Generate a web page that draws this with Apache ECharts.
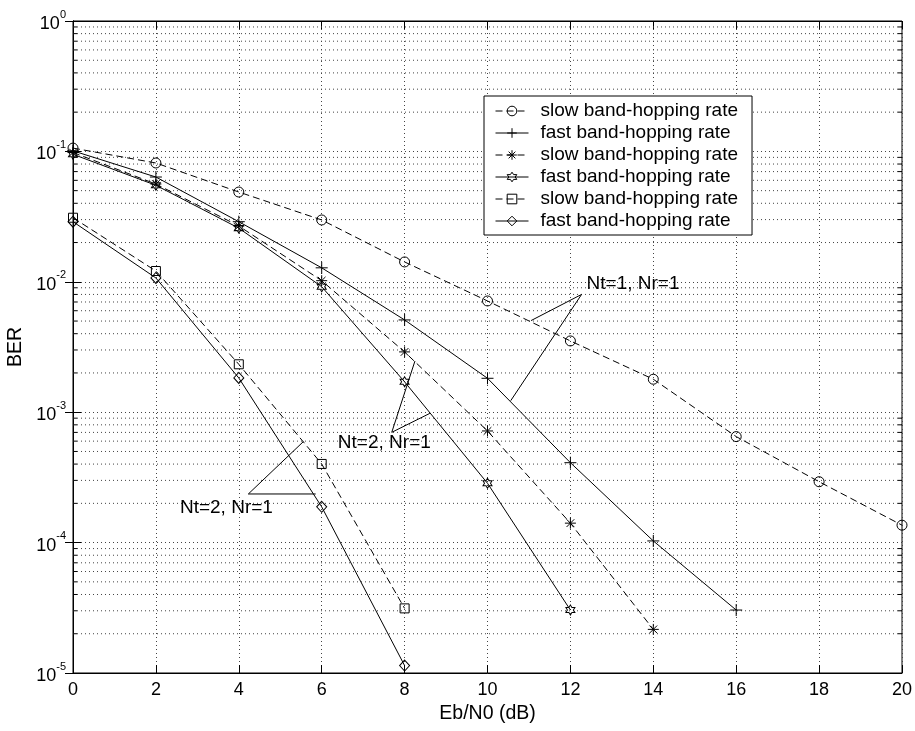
<!DOCTYPE html>
<html>
<head>
<meta charset="utf-8">
<script src="https://cdn.jsdelivr.net/npm/echarts@6/dist/echarts.min.js"></script>
<style>body{margin:0;background:#fff;}</style>
</head>
<body>
<div id="main" style="width:915px;height:731px"></div>
<script>
// Eb/N0 (dB) and BER
var ebn0 = [0, 2, 4, 6, 8, 10, 12, 14, 16, 18, 20];
var slowNt1 = [0.106, 0.0815, 0.0488, 0.0298, 0.0142, 0.00713, 0.00352, 0.00179, 6.5e-4, 2.93e-4, 1.36e-4];
var fastNt1 = [0.101, 0.0636, 0.0289, 0.0128, 0.0051, 0.00182, 4.1e-4, 1.03e-4, 3.04e-5];
var slowNt2a = [0.098, 0.0562, 0.0268, 0.0102, 0.0029, 7.18e-4, 1.41e-4, 2.16e-5];
var fastNt2a = [0.095, 0.055, 0.0258, 0.00917, 0.00171, 2.85e-4, 3.04e-5];
var slowNt2b = [0.031, 0.0121, 0.00233, 4.01e-4, 3.13e-5];
var fastNt2b = [0.0289, 0.0107, 0.00183, 1.88e-4, 1.14e-5];

var legendLabels = ['slow band-hopping rate', 'fast band-hopping rate', 'slow band-hopping rate',
    'fast band-hopping rate', 'slow band-hopping rate', 'fast band-hopping rate'];

var minorFactors = [2, 3, 4, 5, 6, 7, 8, 9];
var decades = [1e-5, 1e-4, 1e-3, 1e-2, 1e-1];

// annotation arrows in data coordinates
var notes = [
    {text: 'Nt=1, Nr=1', at: [12.39, 0.00962], vertex: [12.27, 0.0080], ends: [[11.05, 0.00504], [10.56, 0.001225]]},
    {text: 'Nt=2, Nr=1', at: [6.39, 5.8e-4], vertex: [7.69, 7.01e-4], ends: [[8.25, 2.47e-3], [8.61, 9.8e-4]]},
    {text: 'Nt=2, Nr=1', at: [2.58, 1.84e-4], vertex: [4.23, 2.36e-4], ends: [[5.855, 2.36e-4], [5.556, 5.94e-4]]}
];

var FONT = 'Liberation Sans, Arial, sans-serif';

function starPath(n, inner) {
    var s = '';
    for (var k = 0; k < 2 * n; k++) {
        var a = Math.PI * (-0.5 + k / n);
        var r = k % 2 ? inner : 1;
        s += (k ? 'L' : 'M') + (r * Math.cos(a) * 10).toFixed(2) + ',' + (r * Math.sin(a) * 10).toFixed(2);
    }
    return 'path://' + s + 'Z';
}

var marks = [
    {vals: slowNt1, symbol: 'circle', size: 10, dash: [7, 4]},
    {vals: fastNt1, symbol: 'path://M0,5L10,5M5,0L5,10', size: 12, dash: 'solid'},
    {vals: slowNt2a, symbol: 'path://M5,0L5,10M0,5L10,5M1.5,1.5L8.5,8.5M8.5,1.5L1.5,8.5', size: 11, dash: [7, 4]},
    {vals: fastNt2a, symbol: starPath(6, 0.577), size: [9, 10], dash: 'solid'},
    {vals: slowNt2b, symbol: 'rect', size: 9, dash: [7, 4]},
    {vals: fastNt2b, symbol: 'diamond', size: [10, 11], dash: 'solid'}
];

var names = [];
var series = marks.map(function (m, i) {
    var name = legendLabels[i] + new Array(i + 1).join(' ');
    names.push(name);
    return {
        name: name, type: 'line', z: 3,
        data: m.vals.map(function (v, j) { return [ebn0[j], v]; }),
        symbol: m.symbol, symbolSize: m.size, showSymbol: true,
        lineStyle: {color: '#000', width: 1, type: m.dash},
        itemStyle: {color: 'rgba(0,0,0,0)', borderColor: '#000', borderWidth: 1}
    };
});

var minorData = [];
decades.forEach(function (d) {
    minorFactors.forEach(function (f) { minorData.push([0, d * f]); });
});

series.push({
    type: 'custom', silent: true, z: 1,
    data: minorData,
    encode: {x: 0, y: 1},
    renderItem: function (params, api) {
        var p = api.coord([0, api.value(1)]);
        var cs = params.coordSys;
        return {
            type: 'group',
            children: [
                {type: 'line', shape: {x1: cs.x, y1: p[1], x2: cs.x + cs.width, y2: p[1]},
                    style: {stroke: '#444', lineDash: [1, 3], lineWidth: 1}},
                {type: 'line', shape: {x1: cs.x, y1: p[1], x2: cs.x + 4, y2: p[1]}, style: {stroke: '#000', lineWidth: 1}},
                {type: 'line', shape: {x1: cs.x + cs.width - 4, y1: p[1], x2: cs.x + cs.width, y2: p[1]}, style: {stroke: '#000', lineWidth: 1}}
            ]
        };
    }
});

var gridLine = {show: true, lineStyle: {color: '#444', type: [1, 3], width: 1}};

var myChart = echarts.init(document.getElementById('main'));
var option = {
    animation: false,
    backgroundColor: '#fff',
    textStyle: {fontFamily: FONT},
    grid: {left: 73, right: 13, top: 21, bottom: 58, show: true, borderColor: '#000', borderWidth: 1,
        containLabel: false, outerBoundsMode: 'none'},
    legend: {
        data: names, orient: 'vertical', left: 484, top: 96, selectedMode: false,
        backgroundColor: '#fff', borderColor: '#000', borderWidth: 1,
        padding: [4, 14, 3, 11], itemGap: 0, itemWidth: 33, itemHeight: 12,
        itemStyle: {color: 'rgba(0,0,0,0)', borderColor: '#000', borderWidth: 1},
        lineStyle: {width: 1, color: '#000'},
        formatter: function (name) { return name.trim(); },
        textStyle: {fontFamily: FONT, fontSize: 19, color: '#000', lineHeight: 22, padding: [0, 0, 0, 7]}
    },
    xAxis: [{
        type: 'value', min: 0, max: 20, interval: 2,
        name: 'Eb/N0 (dB)', nameLocation: 'middle', nameGap: 30,
        nameTextStyle: {fontFamily: FONT, fontSize: 19.5, color: '#000'},
        axisLine: {lineStyle: {color: '#000'}},
        axisTick: {inside: true, length: 8, lineStyle: {color: '#000'}},
        axisLabel: {fontFamily: FONT, fontSize: 18, color: '#000', margin: 8},
        splitLine: gridLine
    }, {
        type: 'value', min: 0, max: 20, interval: 2, position: 'top',
        axisLine: {lineStyle: {color: '#000'}},
        axisTick: {inside: true, length: 8, lineStyle: {color: '#000'}},
        axisLabel: {show: false}, splitLine: {show: false}
    }],
    yAxis: [{
        type: 'log', logBase: 10, min: 1e-5, max: 1, splitNumber: 5,
        name: 'BER', nameLocation: 'middle', nameGap: 45,
        nameTextStyle: {fontFamily: FONT, fontSize: 19.5, color: '#000'},
        axisLine: {lineStyle: {color: '#000'}},
        axisTick: {inside: true, length: 8, lineStyle: {color: '#000'}},
        axisLabel: {
            margin: 7, color: '#000',
            formatter: function (v) { return '{b|10}{s|' + Math.round(Math.log10(v)) + '}'; },
            rich: {
                b: {fontFamily: FONT, fontSize: 18, color: '#000', padding: [6, 0, 0, 0]},
                s: {fontFamily: FONT, fontSize: 11, color: '#000', verticalAlign: 'top'}
            }
        },
        splitLine: gridLine
    }, {
        type: 'log', logBase: 10, min: 1e-5, max: 1, splitNumber: 5, position: 'right',
        axisLine: {show: true, lineStyle: {color: '#000'}},
        axisTick: {inside: true, length: 8, lineStyle: {color: '#000'}},
        axisLabel: {show: false}, splitLine: {show: false}
    }],
    series: series
};
myChart.setOption(option);

// annotation lines + labels, positioned through the axes
var graphics = [];
notes.forEach(function (n) {
    var v = myChart.convertToPixel({xAxisIndex: 0, yAxisIndex: 0}, n.vertex);
    n.ends.forEach(function (e) {
        var p = myChart.convertToPixel({xAxisIndex: 0, yAxisIndex: 0}, e);
        graphics.push({type: 'line', z: 10, shape: {x1: v[0], y1: v[1], x2: p[0], y2: p[1]},
            style: {stroke: '#000', lineWidth: 1}});
    });
    var t = myChart.convertToPixel({xAxisIndex: 0, yAxisIndex: 0}, n.at);
    graphics.push({type: 'text', z: 10, x: t[0], y: t[1],
        style: {text: n.text, font: '19px ' + FONT, fill: '#000', textAlign: 'left', textVerticalAlign: 'middle'}});
});
myChart.setOption({graphic: graphics});
</script>
</body>
</html>
